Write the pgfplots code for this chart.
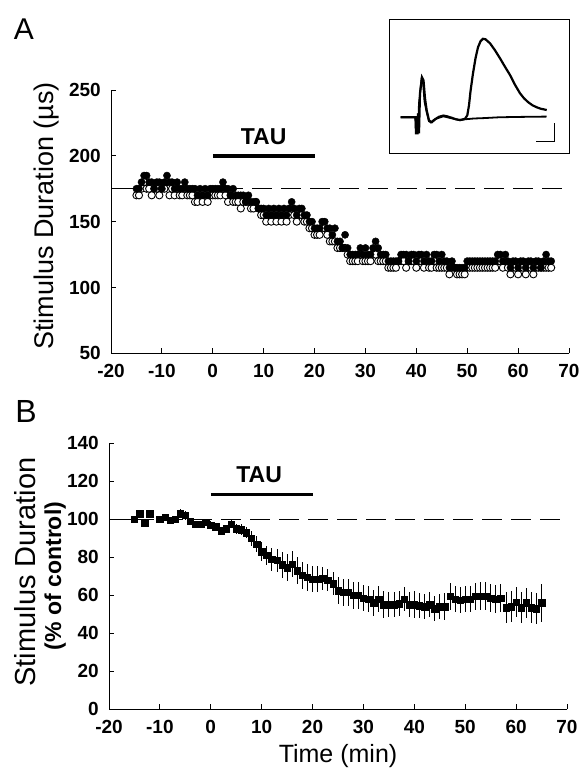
\documentclass[border=0pt]{standalone}
\usepackage{pgfplots}
\pgfplotsset{compat=1.18}
\usepackage{pgfplotstable}
\usepackage{fontspec}
\setmainfont{Liberation Sans}

% panel A: threshold durations, filled (f) and open (o) circles, us
\pgfplotstableread{
t f o
-15 175 170
-14.5 175 170
-14 180 175
-13.5 185 180
-13 185 175
-12.5 180 175
-12 180 170
-11.5 175 175
-11 180 175
-10.5 180 170
-10 175 175
-9.5 180 175
-9 185 180
-8.5 180 170
-8 180 175
-7.5 175 170
-7 180 175
-6.5 175 170
-6 175 170
-5.5 180 175
-5 175 170
-4.5 175 170
-4 175 170
-3.5 175 165
-3 170 165
-2.5 175 170
-2 170 165
-1.5 175 170
-1 170 165
-0.5 175 170
0 175 170
0.5 175 170
1 175 170
1.5 175 170
2 180 175
2.5 175 170
3 175 165
3.5 170 170
4 175 165
4.5 170 165
5 170 165
5.5 170 160
6 170 165
6.5 165 165
7 170 165
7.5 165 160
8 165 160
8.5 165 165
9 160 160
9.5 160 155
10 160 155
10.5 155 150
11 160 155
11.5 155 150
12 160 155
12.5 155 150
13 160 155
13.5 155 150
14 160 155
14.5 155 150
15 160 155
15.5 165 160
16 160 155
16.5 155 150
17 160 155
17.5 160 155
18 155 150
18.5 155 150
19 150 145
19.5 150 145
20 145 140
20.5 145 140
21 145 140
21.5 150 145
22 150 145
22.5 145 140
23 145 135
23.5 140 135
24 145 135
24.5 135 130
25 135 130
25.5 130 130
26 140 130
26.5 130 125
27 125 120
27.5 125 120
28 125 120
28.5 125 120
29 130 125
29.5 125 120
30 130 120
30.5 125 120
31 125 120
31.5 130 125
32 135 125
32.5 130 120
33 125 120
33.5 125 120
34 125 120
34.5 120 115
35 120 115
35.5 120 115
36 120 115
36.5 120 120
37 125 120
37.5 125 120
38 125 115
38.5 120 120
39 125 120
39.5 125 120
40 120 115
40.5 125 120
41 125 120
41.5 120 115
42 125 120
42.5 120 115
43 120 115
43.5 125 120
44 125 115
44.5 120 115
45 125 115
45.5 120 115
46 120 115
46.5 115 110
47 120 115
47.5 115 115
48 115 110
48.5 115 110
49 115 110
49.5 115 110
50 120 115
50.5 120 115
51 120 115
51.5 120 115
52 120 115
52.5 120 115
53 120 115
53.5 120 115
54 120 115
54.5 120 115
55 120 115
55.5 120 115
56 125 120
56.5 125 120
57 120 115
57.5 125 120
58 120 115
58.5 115 110
59 120 115
59.5 120 115
60 115 110
60.5 120 115
61 120 115
61.5 115 110
62 120 115
62.5 120 115
63 115 110
63.5 120 115
64 120 115
64.5 115 115
65 120 115
65.5 125 115
66 120 115
66.5 120 115
}\dataA

% panel B: mean % of control with error
\pgfplotstableread{
t v e
-15 100 1.5
-14 103 2
-13 98 2
-12 103 2
-10 100 1.5
-9 101 1.5
-8 99.5 1.5
-7 100 1.5
-6 103 2.5
-5 102 2.5
-4 99 1.5
-3 97.5 1.5
-2 97.5 1.5
-1 98.5 1.5
0 97 2
1 96 2
2 94 2
3 95 2
4 97.5 2
5 95 2.5
6 94.5 3
7 93 3
8 90 4
9 87 4
10 83 5
11 81 5
12 79 6
13 78.5 6
14 76 7
15 74.5 7
16 76.5 7
17 73 7
18 70.5 7
19 69.5 7
20 68.5 7
21 68.5 7
22 69 6
23 68 6
24 66 6
25 62.5 7
26 61.5 7
27 61.5 7
28 60 7
29 60 7
30 58.5 7
31 58 7
32 56 7
33 58 7
34 55 7
35 55 6.5
36 55 6.5
37 55.5 6.5
38 58 6.5
39 55 6.5
40 55 7
41 54.5 6.5
42 54 6.5
43 55 6.5
44 53 6.5
45 54 6.5
46 54 7
47 59.5 7
48 58 7
49 57.5 7
50 58 7
51 58 7
52 59.5 7
53 59.5 7.5
54 59.5 7.5
55 58.5 7.5
56 58 7.5
57 58.5 7.5
58 53.5 8
59 54 8
60 56.5 8
61 53.5 8
62 56 8
63 53.5 8
64 53 8
65 56 10
}\dataB

\pgfplotsset{
  panel/.style={
    scale only axis,
    width=458pt,
    axis x line*=bottom,
    axis y line*=left,
    axis line style={line width=0.9pt,-},
    tick style={line width=0.8pt,black},
    tick align=inside,
    major tick length=5pt,
    xmin=-20, xmax=70,
    xtick={-20,-10,...,70},
    xticklabels={-20,-10,0,10,20,30,40,50,60,70},
    tick label style={font=\fontsize{19}{19}\selectfont\bfseries,inner sep=1pt},
    xticklabel style={yshift=-10pt},
    yticklabel style={xshift=-9pt},
    clip=false,
  },
}

\begin{document}
\begin{tikzpicture}[x=1pt,y=1pt]
\useasboundingbox (0,0) rectangle (583,771);

% ---- panel A
\begin{axis}[panel,
  at={(111pt,417.7pt)}, anchor=south west,
  height=263.3pt,
  ymin=50, ymax=250,
  ytick={50,100,...,250},
  yticklabels={50,100,150,200,250},
]
\addplot[black,line width=0.6pt] coordinates {(-20,175) (-15,175)};
\addplot[black,line width=0.6pt,dash pattern=on 20pt off 9pt] coordinates {(-15,175) (70,175)};
\addplot[only marks,mark=*,mark size=3.6pt,mark options={fill=white,draw=black,line width=0.9pt}]
  table[x=t,y=o]{\dataA};
\addplot[only marks,mark=*,mark size=3.6pt,mark options={fill=black,draw=black}]
  table[x=t,y=f]{\dataA};
\addplot[black,line width=4pt] coordinates {(0,200) (20,200)};
\node[font=\fontsize{23}{23}\selectfont\bfseries] at (axis cs:10,214.5) {TAU};
\end{axis}

% ---- inset traces
\begin{axis}[
  at={(389pt,617.7pt)}, anchor=south west,
  scale only axis, width=180.3pt, height=134.3pt,
  xmin=0, xmax=180.3, ymin=0, ymax=134.3,
  ticks=none, axis line style={line width=0.8pt},
]
\addplot[black,line width=2.2pt] coordinates {
 (11.7,36) (24,36) (26.5,36) (27,20) (28.5,20) (29,40) (30,20) (31,60) (33,76) (34.5,73)
 (36,55) (37.7,43) (40,33) (42,31) (46,34) (50,36.5) (54.3,37.7) (58,37) (62.7,35.5)
 (67,34) (71,33.3) (76,34.5) (78.3,38) (80,48) (81.5,62) (84,80) (86.5,95) (89,106)
 (91.5,112) (94,114.5) (96.5,114) (101,110) (106,103) (111,95) (116,86.5) (121,78.3)
 (126,68.5) (131,60) (135,55) (139.3,51) (143.5,48) (147.7,46) (152,44.5) (157.7,43.3)};
\addplot[black,line width=1.8pt] coordinates {
 (11.7,36) (24,36) (26.5,36) (27,22) (29,22) (30,50) (32.5,74) (34,72) (35.5,52)
 (37.7,41) (40,32) (43,31) (47,34.5) (54.3,37) (62.7,35) (71,33) (76,34)
 (85,34.8) (95,35.2) (110,36) (125,36.3) (140,36.5) (157.7,36.7)};
\addplot[black,line width=1pt] coordinates {(147,11.7) (165,11.7) (165,30)};
\end{axis}

% ---- panel B
\begin{axis}[panel,
  at={(109pt,61.7pt)}, anchor=south west,
  height=266pt,
  ymin=0, ymax=140,
  ytick={0,20,...,140},
  yticklabels={0,20,40,60,80,100,120,140},
]
\addplot[black,line width=0.6pt] coordinates {(-20,100) (-15,100)};
\addplot[black,line width=0.6pt,dash pattern=on 20pt off 9pt] coordinates {(-15,100) (70,100)};
\addplot[only marks,mark=square*,mark size=3.2pt,mark options={fill=black,draw=black},
  error bars/.cd, y dir=both, y explicit, error mark=none,
  error bar style={line width=0.8pt,black}]
  table[x=t,y=v,y error=e]{\dataB};
\addplot[black,line width=3pt] coordinates {(0,113.3) (20,113.3)};
\node[font=\fontsize{23}{23}\selectfont\bfseries] at (axis cs:9.5,123.6) {TAU};
\end{axis}

% ---- labels
\node[font=\fontsize{30}{30}\selectfont, anchor=base] at (24,731) {A};
\node[font=\fontsize{32}{32}\selectfont, anchor=base] at (26,348) {B};
\node[font=\fontsize{27}{27}\selectfont, rotate=90, anchor=base] at (53,555) {Stimulus Duration (µs)};
\node[font=\fontsize{29}{29}\selectfont, rotate=90, anchor=base] at (35,199) {Stimulus Duration};
\node[font=\fontsize{23}{23}\selectfont\bfseries, rotate=90, anchor=base] at (61,195) {(\% of control)};
\node[font=\fontsize{25}{25}\selectfont, anchor=base] at (338,9) {Time (min)};
\end{tikzpicture}
\end{document}
